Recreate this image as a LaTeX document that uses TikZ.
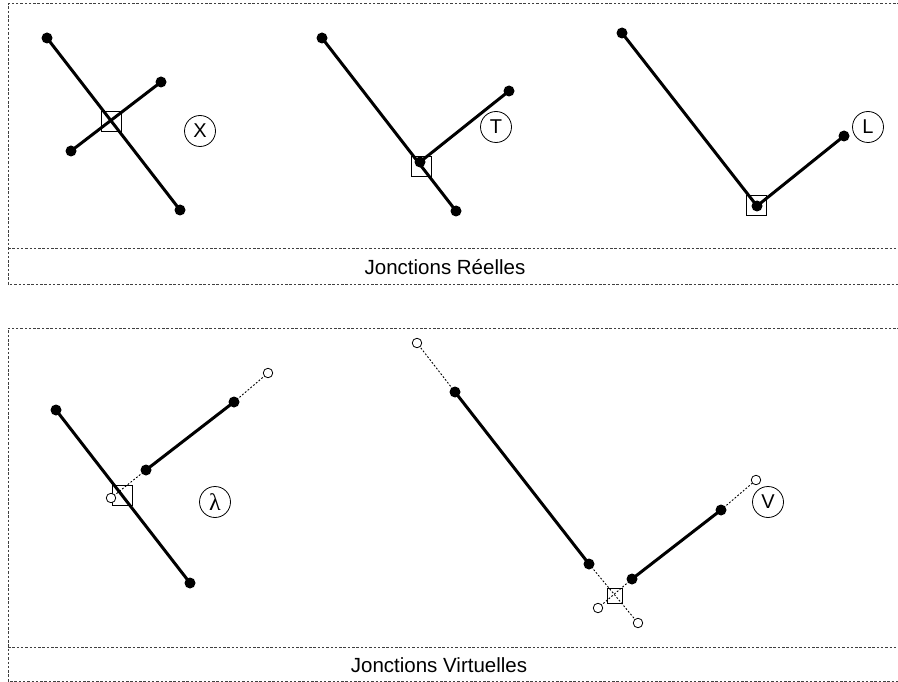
\documentclass[tikz,border=0pt]{standalone}
\usepackage{fontspec}
\setmainfont{Liberation Sans}
\newfontfamily\greekserif{Liberation Serif}
\begin{document}
\begin{tikzpicture}[x=1pt,y=-1pt,
  frameline/.style={draw=black!75,line width=1pt,dash pattern=on 2.5pt off 1.8pt},
  seg/.style={line width=3pt},
  virt/.style={line width=0.9pt,dash pattern=on 1.8pt off 1.8pt},
  dot/.style={circle,fill=black,inner sep=0pt,minimum size=11pt},
  hollow/.style={circle,draw=black,fill=white,line width=0.8pt,inner sep=0pt,minimum size=9.5pt},
  jbox/.style={draw=black,line width=0.9pt,inner sep=0pt,minimum size=#1},
  jbox/.default=20pt,
  tag/.style={circle,draw=black,line width=0.8pt,inner sep=0pt,minimum size=31pt,font=\fontsize{20}{22}\selectfont},
  caption/.style={font=\fontsize{20.5}{24}\selectfont,inner sep=0pt}]
\useasboundingbox (0,0) rectangle (898,682);

% panel frames (they run past the right border)
\draw[frameline] (930,4) -- (8,4) -- (8,284) -- (930,284);
\draw[frameline] (8,249) -- (930,249);
\draw[frameline] (930,328) -- (8,328) -- (8,681) -- (930,681);
\draw[frameline] (8,647) -- (930,647);
\node[caption] (realcap) at (445,267) {Jonctions Réelles};
\node[caption] (virtcap) at (439,665) {Jonctions Virtuelles};

% ---------- X junction
\node[jbox] (xbox) at (111,121) {};
\node[dot] (xa1) at (47,38) {};
\node[dot] (xa2) at (180,210) {};
\node[dot] (xb1) at (71,151) {};
\node[dot] (xb2) at (161,82) {};
\draw[seg] (xa1.center) -- (xa2.center);
\draw[seg] (xb1.center) -- (xb2.center);
\node[tag] (xtag) at (200,131) {X};

% ---------- T junction
\node[jbox] (tbox) at (421,166) {};
\node[dot] (ta1) at (322,38) {};
\node[dot] (ta2) at (456,211) {};
\node[dot] (tb1) at (420,162) {};
\node[dot] (tb2) at (509,91) {};
\draw[seg] (ta1.center) -- (ta2.center);
\draw[seg] (tb1.center) -- (tb2.center);
\node[tag] (ttag) at (496,127) {T};

% ---------- L junction
\node[jbox] (lbox) at (756,205) {};
\node[dot] (la1) at (622,33) {};
\node[dot] (la2) at (757,206) {};
\node[dot] (lb2) at (844,136) {};
\draw[seg] (la1.center) -- (la2.center) -- (lb2.center);
\node[tag] (ltag) at (868,127) {L};

% ---------- lambda junction
\node[jbox] (gbox) at (122,495) {};
\node[dot] (ga1) at (56,410) {};
\node[dot] (ga2) at (190,583) {};
\node[dot] (gb1) at (146,470) {};
\node[dot] (gb2) at (234,402) {};
\coordinate (gb0) at (111,498);
\coordinate (gb3) at (268,373);
\draw[seg] (ga1.center) -- (ga2.center);
\draw[seg] (gb1.center) -- (gb2.center);
\draw[virt] (gb1.center) -- (gb0);
\draw[virt] (gb2.center) -- (gb3);
\node[hollow] (gend0) at (gb0) {};
\node[hollow] (gend3) at (gb3) {};
\node[tag,font=\greekserif\fontsize{24}{26}\selectfont] (gtag) at (215,502) {λ};

% ---------- V junction
\node[jbox=15pt] (vbox) at (615,596) {};
\node[dot] (va1) at (455,392) {};
\node[dot] (va2) at (589,564) {};
\node[dot] (vb1) at (632,579) {};
\node[dot] (vb2) at (721,510) {};
\coordinate (va0) at (417,343);
\coordinate (va3) at (638,623);
\coordinate (vb0) at (598,608);
\coordinate (vb3) at (756,480);
\draw[seg] (va1.center) -- (va2.center);
\draw[seg] (vb1.center) -- (vb2.center);
\draw[virt] (va1.center) -- (va0);
\draw[virt] (va2.center) -- (va3);
\draw[virt] (vb1.center) -- (vb0);
\draw[virt] (vb2.center) -- (vb3);
\node[hollow] (vend0) at (va0) {};
\node[hollow] (vend3) at (va3) {};
\node[hollow] (vendb0) at (vb0) {};
\node[hollow] (vendb3) at (vb3) {};
\node[tag] (vtag) at (768,502) {V};
\end{tikzpicture}
\end{document}
